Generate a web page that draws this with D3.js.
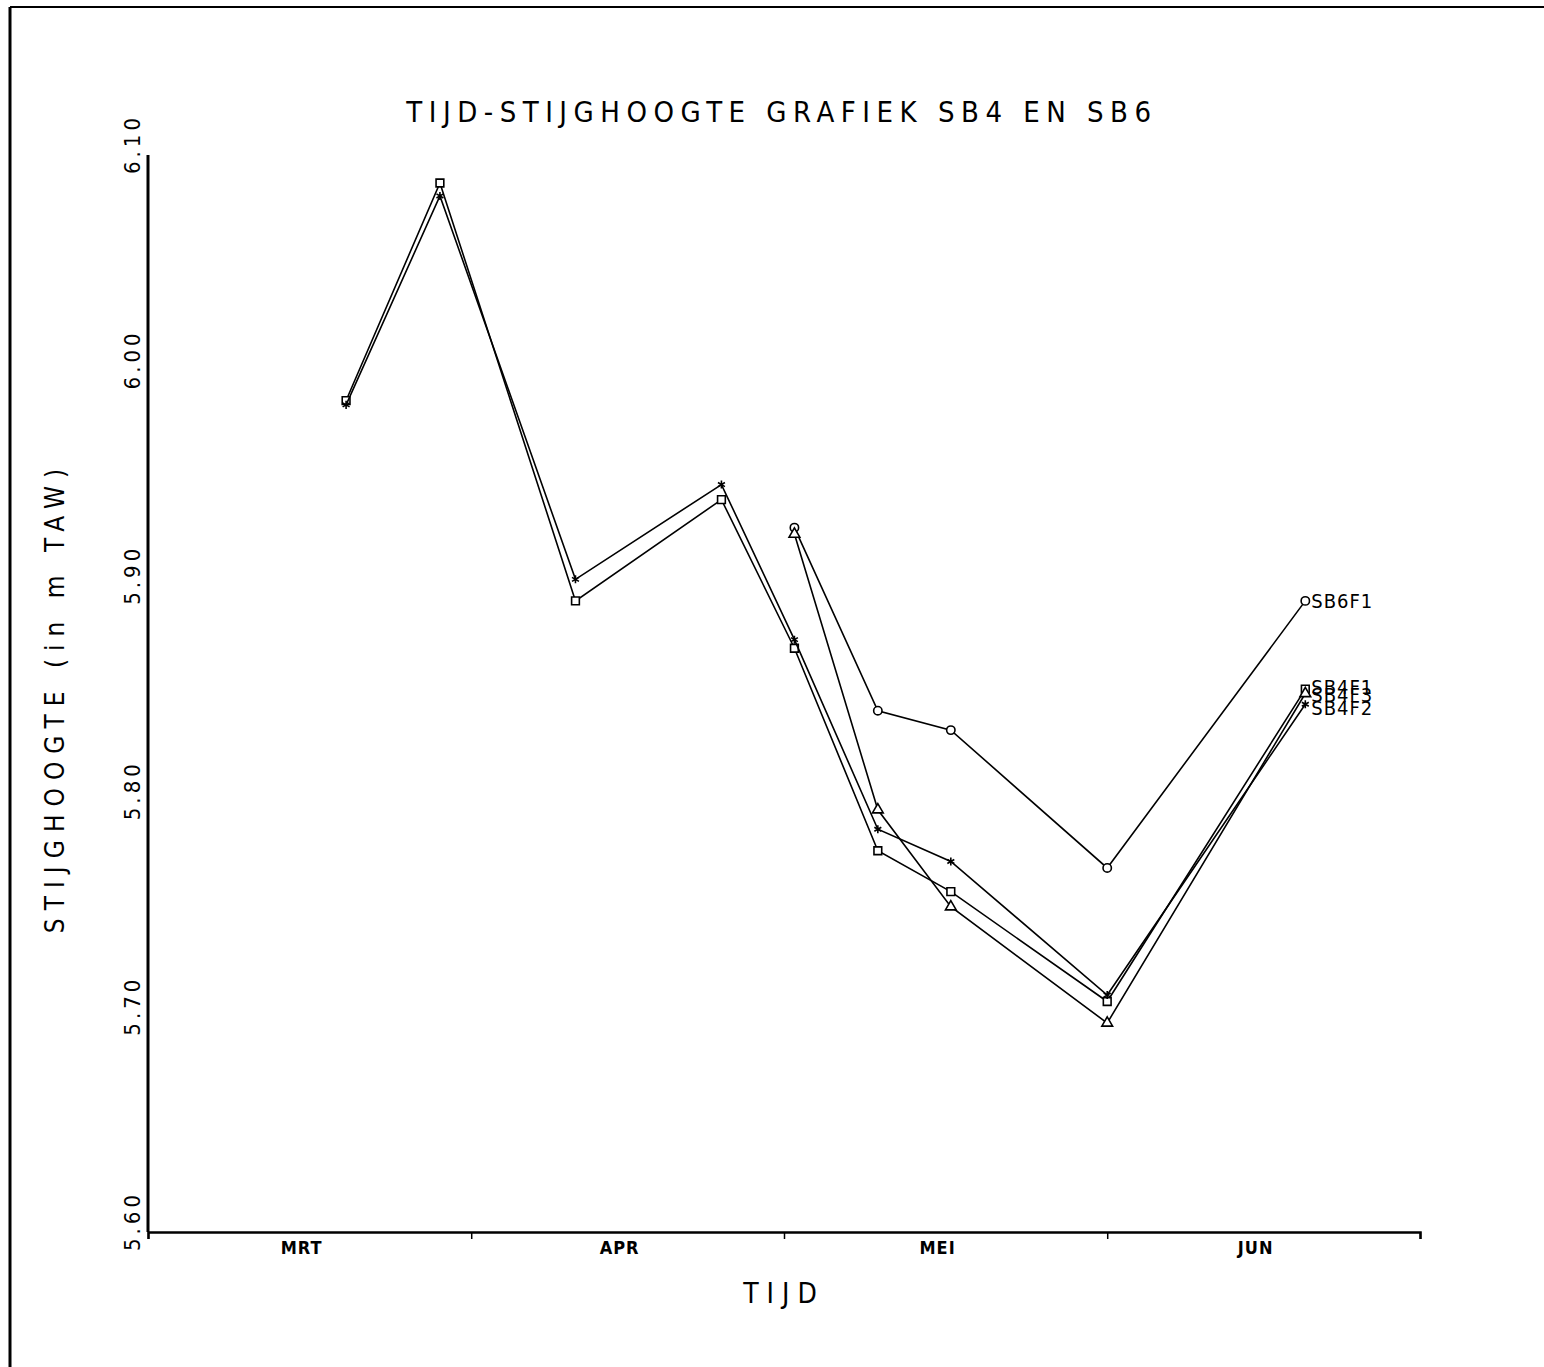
<!DOCTYPE html>
<html>
<head>
<meta charset="utf-8">
<script src="https://cdn.jsdelivr.net/npm/d3@7"></script>
<style>
  body { margin: 0; background: #fff; }
  svg { display: block; }
  text { font-family: "DejaVu Sans Condensed", "Liberation Sans Narrow", "DejaVu Sans", sans-serif; fill: #000; }
</style>
</head>
<body>
<svg id="chart" width="1544" height="1367"></svg>
<script>
// measuring dates (1 per sample) and heads in m TAW
const datesSB4 = ["03-20", "03-29", "04-11", "04-25", "05-02", "05-10", "05-17", "06-01", "06-20"];
const sb4f1 = [5.986, 6.087, 5.893, 5.940, 5.871, 5.777, 5.758, 5.707, 5.852];
const sb4f2 = [5.984, 6.081, 5.903, 5.947, 5.875, 5.787, 5.772, 5.710, 5.845];
const datesLate = ["05-02", "05-10", "05-17", "06-01", "06-20"];
const sb4f3 = [5.924, 5.796, 5.751, 5.697, 5.850];
const sb6f1 = [5.927, 5.842, 5.833, 5.769, 5.893];

const yTicks = [5.6, 5.7, 5.8, 5.9, 6.0, 6.1];
const months = ["MRT", "APR", "MEI", "JUN"];

const parse = d3.timeParse("%Y-%m-%d");
const year = "1990";

const series = [
  { name: "SB6F1", dates: datesLate, values: sb6f1, symbol: d3.symbolCircle, size: 55, dy: 0 },
  { name: "SB4F1", dates: datesSB4, values: sb4f1, symbol: d3.symbolSquare, size: 60, dy: -2 },
  { name: "SB4F3", dates: datesLate, values: sb4f3, symbol: d3.symbolTriangle, size: 50, dy: 1 },
  { name: "SB4F2", dates: datesSB4, values: sb4f2, symbol: d3.symbolAsterisk, size: 45, dy: 4 }
].map((s) => ({
  ...s,
  points: s.dates.map((d, i) => ({ date: parse(year + "-" + d), value: s.values[i] }))
}));

const svg = d3.select("#chart");

// page frame of the scan
svg.append("line").attr("x1", 10).attr("x2", 1544).attr("y1", 7).attr("y2", 7)
  .attr("stroke", "#000").attr("stroke-width", 2);
svg.append("line").attr("x1", 10).attr("x2", 10).attr("y1", 7).attr("y2", 1367)
  .attr("stroke", "#000").attr("stroke-width", 3);

const x = d3.scaleTime()
  .domain([parse(year + "-03-01"), parse(year + "-07-01")])
  .range([148, 1420]);
const y = d3.scaleLinear().domain([5.6, 6.1]).range([1232, 155]);

// y axis
svg.append("line").attr("x1", 148).attr("x2", 148).attr("y1", y(6.1)).attr("y2", y(5.6))
  .attr("stroke", "#000").attr("stroke-width", 3);
svg.selectAll(".ylab")
  .data(yTicks)
  .join("text")
  .attr("class", "ylab")
  .attr("transform", (d) => `translate(140, ${y(d) - 11}) rotate(-90)`)
  .attr("text-anchor", "middle")
  .style("font-size", "22px")
  .style("letter-spacing", "4px")
  .text((d) => d.toFixed(2));

// x axis
const xAxis = svg.append("g")
  .attr("transform", `translate(0, ${y(5.6)})`)
  .call(d3.axisBottom(x).ticks(d3.timeMonth.every(1)).tickSize(7).tickFormat(""));
xAxis.select(".domain").attr("stroke-width", 2.5);
xAxis.selectAll(".tick line").attr("stroke-width", 1.5);

const monthStarts = d3.timeMonth.range(x.domain()[0], x.domain()[1]);
svg.selectAll(".mlab")
  .data(monthStarts)
  .join("text")
  .attr("class", "mlab")
  .attr("x", (d, i) => (x(d) + x(d3.timeMonth.offset(d, 1))) / 2 - 8)
  .attr("y", y(5.6) + 22)
  .attr("text-anchor", "middle")
  .style("font-size", "18px")
  .style("font-weight", "bold")
  .style("letter-spacing", "1px")
  .text((d, i) => months[i]);

// titles
svg.append("text")
  .attr("x", 782).attr("y", 122)
  .attr("text-anchor", "middle")
  .style("font-size", "29px")
  .style("letter-spacing", "6.5px")
  .text("TIJD-STIJGHOOGTE GRAFIEK SB4 EN SB6");

svg.append("text")
  .attr("x", 784).attr("y", 1303)
  .attr("text-anchor", "middle")
  .style("font-size", "28px")
  .style("letter-spacing", "8px")
  .text("TIJD");

svg.append("text")
  .attr("transform", "translate(64, 697) rotate(-90)")
  .attr("text-anchor", "middle")
  .style("font-size", "26px")
  .style("letter-spacing", "8px")
  .text("STIJGHOOGTE (in m TAW)");

// series
const line = d3.line().x((d) => x(d.date)).y((d) => y(d.value));

const g = svg.append("g");
series.forEach((s) => {
  g.append("path")
    .datum(s.points)
    .attr("d", line)
    .attr("fill", "none")
    .attr("stroke", "#000")
    .attr("stroke-width", 1.6);

  g.selectAll(null)
    .data(s.points)
    .join("path")
    .attr("transform", (d) => `translate(${x(d.date)}, ${y(d.value)})`)
    .attr("d", d3.symbol().type(s.symbol).size(s.size))
    .attr("fill", s.symbol === d3.symbolAsterisk ? "#000" : "#fff")
    .attr("stroke", "#000")
    .attr("stroke-width", 1.6);

  const last = s.points[s.points.length - 1];
  g.append("text")
    .attr("x", x(last.date) + 6)
    .attr("y", y(last.value) + s.dy)
    .attr("dy", "0.36em")
    .style("font-size", "20px")
    .style("letter-spacing", "1px")
    .text(s.name);
});
</script>
</body>
</html>
